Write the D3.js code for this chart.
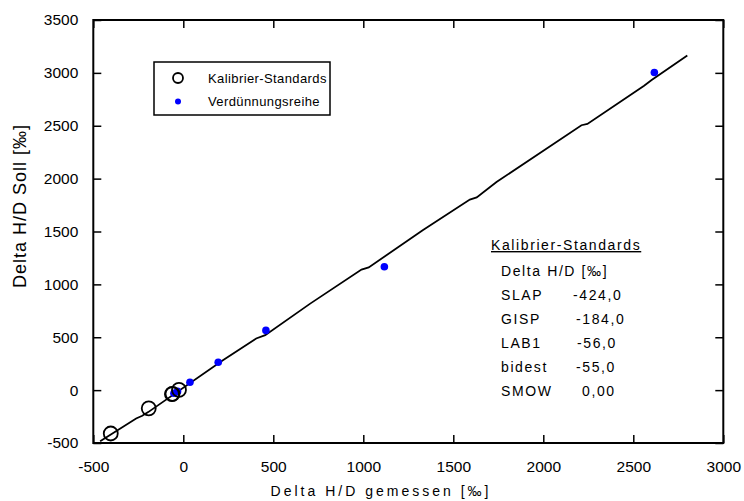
<!DOCTYPE html>
<html>
<head>
<meta charset="utf-8">
<script src="https://cdn.jsdelivr.net/npm/d3@7"></script>
<style>
  body { margin: 0; background: #fff; }
  svg text { font-family: "Liberation Sans", Arial, sans-serif; fill: #000; }
</style>
</head>
<body>
<div id="chart"></div>
<script>
// Kalibrier-Standards (gemessen / Soll, as plotted)
var stdNames = ["SLAP", "GISP", "LAB1", "bidest", "SMOW"];
var stdSollText = ["-424,0", "-184,0", "-56,0", "-55,0", "0,00"];
var stdX = [-403, -192, -63, -60, -24];
var stdY = [-410, -172, -38, -35, 2];

// Verdünnungsreihe
var dilX = [-52, -32, 37, 194, 459, 1117, 2617];
var dilY = [-30, -12, 74, 263, 565, 1166, 3004];

// Ausgleichslinie
var lineX = [-462, -262, -228, -195, 220, 405, 455, 705, 990, 1030, 1330, 1592, 1630, 1740, 2212, 2245, 2560, 2600, 2800];
var lineY = [-483, -268, -243, -208, 282, 488, 520, 818, 1140, 1160, 1512, 1802, 1822, 1968, 2505, 2517, 2878, 2930, 3165];

var xTicks = [-500, 0, 500, 1000, 1500, 2000, 2500, 3000];
var yTicks = [-500, 0, 500, 1000, 1500, 2000, 2500, 3000, 3500];

var width = 744, height = 501;
var plot = {left: 93.3, right: 723.3, top: 20, bottom: 443};

var svg = d3.select("#chart").append("svg")
    .attr("width", width)
    .attr("height", height);

var x = d3.scaleLinear().domain([-500, 3000]).range([plot.left, plot.right]);
var y = d3.scaleLinear().domain([-500, 3500]).range([plot.bottom, plot.top]);

//plain hyphen for negatives, like the original
var fmt = function(d){ return String(d); };

//axes, ticks pointing inwards on all four sides
var xAxis = svg.append("g")
    .attr("transform", "translate(0," + plot.bottom + ")")
    .call(d3.axisBottom(x).tickValues(xTicks).tickFormat(fmt)
        .tickSizeInner(-8).tickSizeOuter(0).tickPadding(17.5));
var yAxis = svg.append("g")
    .attr("transform", "translate(" + plot.left + ",0)")
    .call(d3.axisLeft(y).tickValues(yTicks).tickFormat(fmt)
        .tickSizeInner(-8).tickSizeOuter(0).tickPadding(15));
var xTop = svg.append("g")
    .attr("transform", "translate(0," + plot.top + ")")
    .call(d3.axisTop(x).tickValues(xTicks).tickFormat("")
        .tickSizeInner(-8).tickSizeOuter(0));
var yRight = svg.append("g")
    .attr("transform", "translate(" + plot.right + ",0)")
    .call(d3.axisRight(y).tickValues(yTicks).tickFormat("")
        .tickSizeInner(-8).tickSizeOuter(0));

[xAxis, yAxis, xTop, yRight].forEach(function(g){
    g.select(".domain").remove();
    g.selectAll("line").attr("stroke", "#000").attr("stroke-width", 1.5);
    g.selectAll("text")
        .style("font-family", "Liberation Sans, Arial, sans-serif")
        .style("font-size", "15.5px");
});

svg.append("rect")
    .attr("x", plot.left)
    .attr("y", plot.top)
    .attr("width", plot.right - plot.left)
    .attr("height", plot.bottom - plot.top)
    .attr("fill", "none")
    .attr("stroke", "#000")
    .attr("stroke-width", 2);

//axis titles
svg.append("text")
    .attr("x", 381)
    .attr("y", 496)
    .attr("text-anchor", "middle")
    .style("font-size", "14px")
    .style("letter-spacing", "3px")
    .text("Delta H/D gemessen [‰]");

svg.append("text")
    .attr("transform", "translate(26,206) rotate(-90)")
    .attr("text-anchor", "middle")
    .style("font-size", "18px")
    .style("letter-spacing", "1px")
    .text("Delta H/D Soll [‰]");

//fit line
var linePts = lineX.map(function(d, i){ return [d, lineY[i]]; });
svg.append("path")
    .datum(linePts)
    .attr("fill", "none")
    .attr("stroke", "#000")
    .attr("stroke-width", 1.8)
    .attr("d", d3.line()
        .x(function(d){ return x(d[0]); })
        .y(function(d){ return y(d[1]); }));

//dilution series points
svg.selectAll(".dil")
    .data(dilX)
    .enter()
    .append("circle")
    .attr("class", "dil")
    .attr("cx", function(d){ return x(d); })
    .attr("cy", function(d, i){ return y(dilY[i]); })
    .attr("r", 3.8)
    .attr("fill", "#0000ff");

//calibration standards
svg.selectAll(".std")
    .data(stdX)
    .enter()
    .append("circle")
    .attr("class", "std")
    .attr("cx", function(d){ return x(d); })
    .attr("cy", function(d, i){ return y(stdY[i]); })
    .attr("r", 7)
    .attr("fill", "none")
    .attr("stroke", "#000")
    .attr("stroke-width", 1.8);

//legend
var legend = svg.append("g");
legend.append("rect")
    .attr("x", 154).attr("y", 62)
    .attr("width", 176).attr("height", 53)
    .attr("fill", "#fff")
    .attr("stroke", "#000")
    .attr("stroke-width", 1.5);
legend.append("circle")
    .attr("cx", 178).attr("cy", 78).attr("r", 5)
    .attr("fill", "none").attr("stroke", "#000").attr("stroke-width", 1.8);
legend.append("circle")
    .attr("cx", 178).attr("cy", 101.5).attr("r", 3)
    .attr("fill", "#0000ff");
legend.append("text")
    .attr("x", 208).attr("y", 83)
    .style("font-size", "13px").style("letter-spacing", "0.4px")
    .text("Kalibrier-Standards");
legend.append("text")
    .attr("x", 208).attr("y", 106)
    .style("font-size", "13px").style("letter-spacing", "0.4px")
    .text("Verdünnungsreihe");

//annotation table
var note = svg.append("g")
    .style("font-size", "14px")
    .style("letter-spacing", "1.6px");
note.append("text")
    .attr("x", 491).attr("y", 250)
    .style("text-decoration", "underline")
    .text("Kalibrier-Standards");
note.append("text")
    .attr("x", 501).attr("y", 276)
    .text("Delta H/D  [‰]");
var valueX = [573, 576, 577, 576, 582];
stdNames.forEach(function(name, i){
    note.append("text")
        .attr("x", 501).attr("y", 300 + i * 24)
        .text(name);
    note.append("text")
        .attr("x", valueX[i]).attr("y", 300 + i * 24)
        .text(stdSollText[i]);
});
</script>
</body>
</html>
